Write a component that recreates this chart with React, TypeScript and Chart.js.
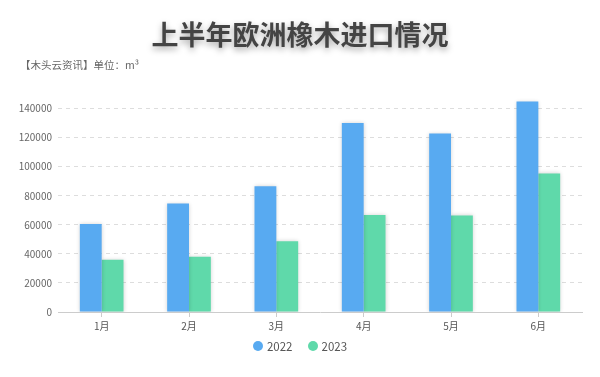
import React, { useEffect, useRef } from "react";
import { Chart, registerables } from "chart.js";

Chart.register(...registerables);

const categories = ["1月", "2月", "3月", "4月", "5月", "6月"];
const series2022 = [60500, 74600, 86500, 130000, 122800, 144800];
const series2023 = [36000, 38100, 48700, 66800, 66400, 95300];
const seriesNames = ["2022", "2023"];
const seriesColors = ["#58aaf1", "#5fd9aa"];
const yTicks = [0, 20000, 40000, 60000, 80000, 100000, 120000, 140000];
const titleText = "上半年欧洲橡木进口情况";
const subtitleText = "【木头云资讯】单位：m³";

const FONT = "'Noto Sans CJK SC', 'Noto Sans', sans-serif";

const shadowPlugin = {
  id: "barShadow",
  beforeDatasetsDraw(chart: any) {
    const ctx = chart.ctx;
    ctx.save();
    ctx.shadowColor = "rgba(0,0,0,0.18)";
    ctx.shadowBlur = 4;
    ctx.shadowOffsetX = 0;
    ctx.shadowOffsetY = 0;
  },
  afterDatasetsDraw(chart: any) {
    chart.ctx.restore();
  },
};

export default function App() {
  const canvasRef = useRef<HTMLCanvasElement | null>(null);

  useEffect(() => {
    if (!canvasRef.current) return;
    const chart = new Chart(canvasRef.current, {
      type: "bar",
      data: {
        labels: categories,
        datasets: [
          {
            label: seriesNames[0],
            data: series2022,
            backgroundColor: seriesColors[0],
            borderWidth: 0,
            categoryPercentage: 0.5,
            barPercentage: 1,
          },
          {
            label: seriesNames[1],
            data: series2023,
            backgroundColor: seriesColors[1],
            borderWidth: 0,
            categoryPercentage: 0.5,
            barPercentage: 1,
          },
        ],
      },
      plugins: [shadowPlugin],
      options: {
        responsive: false,
        animation: false,
        maintainAspectRatio: false,
        layout: { padding: { left: 0, right: 18, top: 94, bottom: 39 } },
        plugins: {
          title: { display: false },
          tooltip: { enabled: false },
          legend: { display: false },
        },
        scales: {
          x: {
            grid: {
              display: true,
              drawOnChartArea: false,
              drawTicks: true,
              tickLength: 5,
              offset: false,
              color: "#cccccc",
            },
            border: { display: true, color: "#cccccc" },
            ticks: {
              color: "#555",
              font: { family: FONT, size: 10 },
              padding: 3,
            },
            afterFit(scale: any) {
              scale.height = 26;
            },
          },
          y: {
            min: 0,
            max: 150000,
            afterBuildTicks(scale: any) {
              scale.ticks = yTicks.map((v) => ({ value: v }));
            },
            grid: {
              color: "#dddddd",
              drawTicks: false,
            },
            border: { display: false, dash: [4, 4] },
            ticks: {
              color: "#666",
              font: { family: FONT, size: 10 },
              padding: 6,
              callback: (v: any) => String(v),
            },
            afterFit(scale: any) {
              scale.width = 58;
            },
          },
        },
      },
    } as any);
    return () => chart.destroy();
  }, []);

  return (
    <div
      style={{
        position: "absolute",
        left: 0,
        top: 0,
        width: 600,
        height: 377,
        background: "#ffffff",
        overflow: "hidden",
      }}
    >
      <canvas ref={canvasRef} width={600} height={377} style={{ display: "block" }} />
      <div
        style={{
          position: "absolute",
          left: 0,
          top: 14,
          width: 600,
          textAlign: "center",
          fontFamily: FONT,
          fontWeight: 700,
          fontSize: 27,
          lineHeight: "40px",
          color: "#444",
          textShadow: "0 3px 6px rgba(0,0,0,0.35)",
        }}
      >
        {titleText}
      </div>
      <div
        style={{
          position: "absolute",
          left: 20,
          top: 57,
          fontFamily: FONT,
          fontSize: 10.5,
          lineHeight: "16px",
          color: "#666",
        }}
      >
        {subtitleText}
      </div>
      <div
        style={{
          position: "absolute",
          left: 0,
          top: 337,
          width: 600,
          height: 18,
          display: "flex",
          justifyContent: "center",
          alignItems: "center",
          gap: 15,
          fontFamily: FONT,
          fontSize: 11.5,
          color: "#555",
        }}
      >
        {seriesNames.map((name, i) => (
          <div key={name} style={{ display: "flex", alignItems: "center", gap: 4 }}>
            <span
              style={{
                display: "inline-block",
                width: 10,
                height: 10,
                borderRadius: "50%",
                background: seriesColors[i],
              }}
            />
            <span style={{ lineHeight: "18px" }}>{name}</span>
          </div>
        ))}
      </div>
    </div>
  );
}
